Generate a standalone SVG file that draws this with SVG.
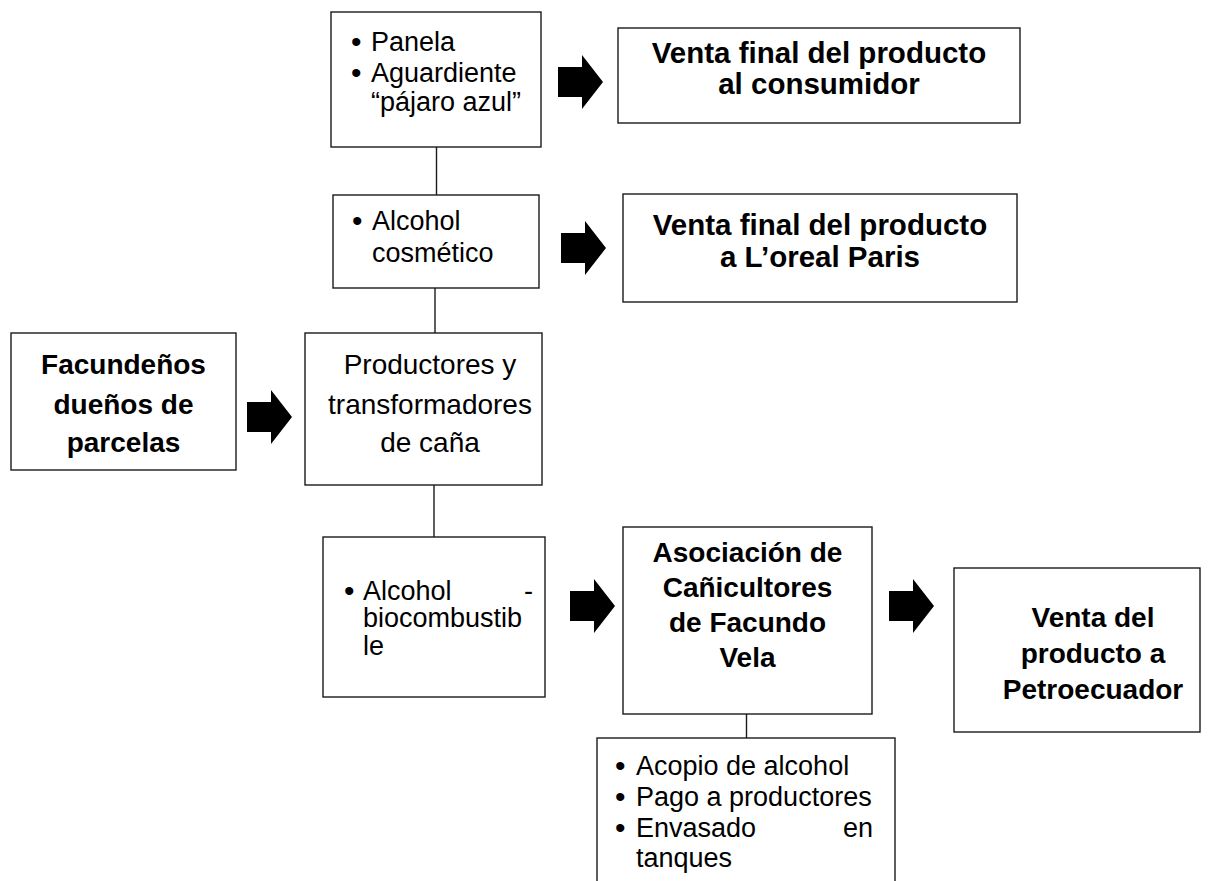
<svg xmlns="http://www.w3.org/2000/svg" width="1208" height="881" viewBox="0 0 1208 881">
<style>
.box{fill:#fff;stroke:#1a1a1a;stroke-width:1.4}
.ln{stroke:#1a1a1a;stroke-width:1.4;fill:none}
.t{font-family:"Liberation Sans",Arial,sans-serif;font-size:27px;fill:#000}
.b{font-family:"Liberation Sans",Arial,sans-serif;font-size:28px;font-weight:bold;fill:#000;text-anchor:middle}
.bw{font-size:29.5px}
.r{font-family:"Liberation Sans",Arial,sans-serif;font-size:28px;fill:#000;text-anchor:middle}
.bu{font-family:"Liberation Sans",Arial,sans-serif;font-size:30px;fill:#000}
</style>
<defs>
<path id="arr" d="M0,-15 H24 V-27 L45,0 L24,27 V15 H0 Z" fill="#000"/>
</defs>
<rect width="1208" height="881" fill="#fff"/>
<g id="connectors">
<line class="ln" x1="436.5" y1="147" x2="436.5" y2="195"/>
<line class="ln" x1="435" y1="288" x2="435" y2="333"/>
<line class="ln" x1="434" y1="485" x2="434" y2="537"/>
<line class="ln" x1="746.5" y1="714" x2="746.5" y2="738"/>
<use href="#arr" x="558" y="82"/>
<use href="#arr" x="561" y="248"/>
<use href="#arr" x="247" y="417"/>
<use href="#arr" x="570" y="606"/>
<use href="#arr" x="889" y="606"/>
</g>
<g id="n_top">
<rect class="box" x="331" y="12" width="210" height="135"/>
<text class="bu" x="351" y="52">•</text><text class="t" x="371" y="51">Panela</text>
<text class="bu" x="351" y="83">•</text><text class="t" x="371" y="82">Aguardiente</text>
<text class="t" x="371" y="111">“pájaro azul”</text>
</g>
<g id="n_consumidor">
<rect class="box" x="618" y="28" width="402" height="95"/>
<text class="b bw" x="819" y="63">Venta final del producto</text>
<text class="b bw" x="819" y="94">al consumidor</text>
</g>
<g id="n_cosmetico">
<rect class="box" x="333" y="195" width="206" height="93"/>
<text class="bu" x="352" y="231">•</text><text class="t" x="372" y="230">Alcohol</text>
<text class="t" x="372" y="262">cosmético</text>
</g>
<g id="n_loreal">
<rect class="box" x="623" y="194" width="394" height="108"/>
<text class="b bw" x="820" y="235">Venta final del producto</text>
<text class="b bw" x="820" y="267">a L’oreal Paris</text>
</g>
<g id="n_facundenos">
<rect class="box" x="11" y="333" width="225" height="137"/>
<text class="b" x="123.5" y="374">Facundeños</text>
<text class="b" x="123.5" y="414">dueños de</text>
<text class="b" x="123.5" y="452">parcelas</text>
</g>
<g id="n_productores">
<rect class="box" x="305" y="333" width="237" height="152"/>
<text class="r" x="430" y="374">Productores y</text>
<text class="r" x="430" y="414">transformadores</text>
<text class="r" x="430" y="452">de caña</text>
</g>
<g id="n_biocombustible">
<rect class="box" x="323" y="537" width="222" height="160"/>
<text class="bu" x="344" y="601">•</text><text class="t" x="363" y="600">Alcohol</text><text class="t" x="524" y="600">-</text>
<text class="t" x="363" y="627">biocombustib</text>
<text class="t" x="363" y="655">le</text>
</g>
<g id="n_asociacion">
<rect class="box" x="623" y="527" width="249" height="187"/>
<text class="b" x="747.5" y="562">Asociación de</text>
<text class="b" x="747.5" y="597">Cañicultores</text>
<text class="b" x="747.5" y="632">de Facundo</text>
<text class="b" x="747.5" y="667">Vela</text>
</g>
<g id="n_petroecuador">
<rect class="box" x="954" y="568" width="246" height="164"/>
<text class="b" x="1093" y="627">Venta del</text>
<text class="b" x="1093" y="663">producto a</text>
<text class="b" x="1093" y="699">Petroecuador</text>
</g>
<g id="n_acopio">
<rect class="box" x="597" y="738" width="298" height="160"/>
<text class="bu" x="615" y="776">•</text><text class="t" x="636" y="775">Acopio de alcohol</text>
<text class="bu" x="615" y="807">•</text><text class="t" x="636" y="806">Pago a productores</text>
<text class="bu" x="615" y="838">•</text><text class="t" x="636" y="837">Envasado</text><text class="t" x="873" y="837" text-anchor="end">en</text>
<text class="t" x="636" y="867">tanques</text>
</g>
</svg>
